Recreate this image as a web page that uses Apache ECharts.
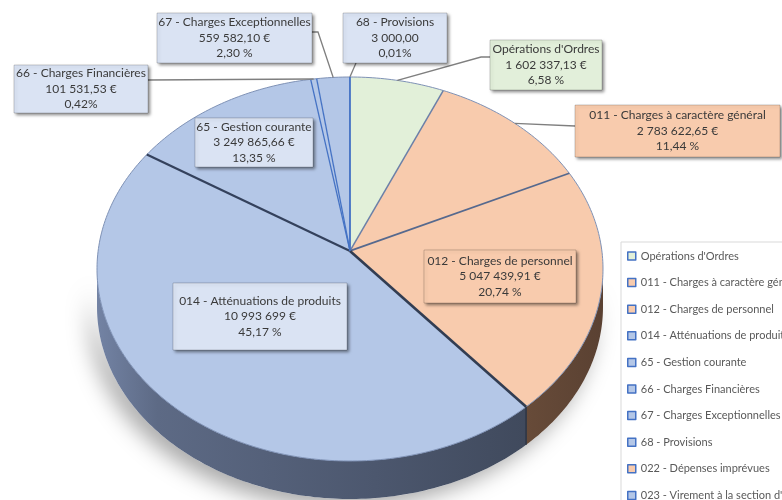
<!DOCTYPE html>
<html>
<head>
<meta charset="utf-8">
<script src="https://cdn.jsdelivr.net/npm/echarts@6/dist/echarts.min.js"></script>
<style>
  html, body { margin: 0; padding: 0; background: #fff; }
  #main { width: 782px; height: 500px; }
</style>
</head>
<body>
<div id="main"></div>
<script>
// values
const categories = [
  "Opérations d'Ordres",
  "011 - Charges à caractère général",
  "012 - Charges de personnel",
  "014 - Atténuations de produits",
  "65 - Gestion courante",
  "66 - Charges Financières",
  "67 - Charges Exceptionnelles",
  "68 - Provisions",
  "022 - Dépenses imprévues",
  "023 - Virement à la section d'Investissement"
];
const amounts = [1602337.13, 2783622.65, 5047439.91, 10993699, 3249865.66, 101531.53, 559582.10, 3000.00, 0, 0];
const amountLabels = ["1 602 337,13 €", "2 783 622,65 €", "5 047 439,91 €", "10 993 699 €", "3 249 865,66 €",
  "101 531,53 €", "559 582,10 €", "3 000,00", "", ""];
const percentLabels = ["6,58 %", "11,44 %", "20,74 %", "45,17 %", "13,35 %", "0,42%", "2,30 %", "0,01%", "", ""];

// colours and layout
const GREEN = "#e2f0d9", ORANGE = "#f8cbad", BLUE = "#b4c7e7";
const sliceColors = [GREEN, ORANGE, ORANGE, BLUE, BLUE, BLUE, BLUE, BLUE, ORANGE, BLUE];
const boxColors = ["#e2efda", "#f8cbad", "#f8cbad", "#dae3f3", "#dae3f3", "#dae3f3", "#dae3f3", "#dae3f3"];
// radial line drawn at the start of each slice
const radialStyles = [
  ["#4472c4", 1.5], ["#6b80a8", 1.5], ["#56698e", 1.8], ["#323d52", 2.6],
  ["#34415c", 2.2], ["#4472c4", 1.3], ["#4472c4", 1.3], ["#4472c4", 1.3]
];
// label boxes [x, y, w, h] and leader start / elbow
const labelBoxes = [
  { box: [490, 40, 112, 50], leader: [[490, 57], [481, 57]] },
  { box: [575, 105, 205, 52], leader: [[575, 126]] },
  { box: [424, 250, 152, 53] },
  { box: [173, 283, 174, 67] },
  { box: [195, 118, 118, 49] },
  { box: [14, 65, 134, 48], leader: [[148, 80]] },
  { box: [157, 13, 155, 50], leader: [[312, 32], [318, 32]] },
  { box: [343, 13, 104, 50], leader: [[356, 63]] }
];

const CX = 350, CY = 269, RX = 253, RY = 192, S = -0.094, DEPTH = 38;
const K = Math.sqrt(1 - S * S);
const APEX = [CX, CY + RY * S];
const SIDE_A = Math.acos(S), SIDE_B = 2 * Math.PI - SIDE_A;
const FONT = "12px Lato";

// perspective projection of a rim point, angle clockwise from 12 o'clock
function project(t) {
  const u = Math.sin(t), v = -Math.cos(t), d = 1 + S * v;
  return [CX + RX * u * K / d, CY + RY * (v + S) / d];
}
function rim(t0, t1) {
  const n = Math.max(2, Math.ceil((t1 - t0) * 60));
  const pts = [];
  for (let k = 0; k <= n; k++) pts.push(project(t0 + (t1 - t0) * k / n));
  return pts;
}

const total = amounts.reduce((a, b) => a + b, 0);
let acc = 0;
const sliceData = amounts.map((v, i) => {
  const s = acc;
  acc += v;
  return { name: categories[i], value: [s / total, acc / total, i] };
});

const blueSide = new echarts.graphic.LinearGradient(CX - RX, 0, CX + RX, 0, [
  { offset: 0, color: "#7383a4" }, { offset: 0.12, color: "#5d6a85" },
  { offset: 0.55, color: "#4c576e" }, { offset: 1, color: "#3a4354" }
], true);
const orangeSide = new echarts.graphic.LinearGradient(CX - RX, 0, CX + RX, 0, [
  { offset: 0.6, color: "#7d5b44" }, { offset: 1, color: "#5a4132" }
], true);

function renderSlice(params, api) {
  const t0 = api.value(0) * 2 * Math.PI, t1 = api.value(1) * 2 * Math.PI, i = api.value(2);
  if (t1 - t0 <= 0) return null;
  const children = [];
  const color = sliceColors[i];

  // side band (front half only)
  const a = Math.max(t0, SIDE_A), b = Math.min(t1, SIDE_B);
  if (b > a) {
    const top = rim(a, b);
    const bottom = top.map(p => [p[0], p[1] + DEPTH]).reverse();
    children.push({
      type: "polygon", z2: 1,
      shape: { points: top.concat(bottom) },
      style: { fill: color === ORANGE ? orangeSide : blueSide }
    });
  }
  // top face
  const edge = rim(t0, t1);
  children.push({
    type: "polygon", z2: 2,
    shape: { points: [APEX].concat(edge) },
    style: { fill: color, stroke: null }
  });
  children.push({
    type: "polyline", z2: 3,
    shape: { points: edge },
    style: { stroke: "#7f92b6", lineWidth: 1, fill: null }
  });
  // radial boundary at the slice start
  const rs = radialStyles[i];
  const p0 = project(t0);
  children.push({
    type: "line", z2: 4,
    shape: { x1: APEX[0], y1: APEX[1], x2: p0[0], y2: p0[1] },
    style: { stroke: rs[0], lineWidth: rs[1] }
  });
  if (t0 > SIDE_A && t0 < SIDE_B) {
    children.push({
      type: "line", z2: 4,
      shape: { x1: p0[0], y1: p0[1], x2: p0[0], y2: p0[1] + DEPTH },
      style: { stroke: "#2c3342", lineWidth: 1.5 }
    });
  }

  // label
  const lb = labelBoxes[i];
  if (lb) {
    const [bx, by, bw, bh] = lb.box;
    if (lb.leader) {
      const end = project((t0 + t1) / 2);
      children.push({
        type: "polyline", z2: 5,
        shape: { points: lb.leader.concat([end]) },
        style: { stroke: "#7f7f7f", lineWidth: 1.3, fill: null }
      });
    }
    children.push({
      type: "rect", z2: 6,
      shape: { x: bx, y: by, width: bw, height: bh },
      style: {
        fill: boxColors[i], stroke: "rgba(0,0,0,0.18)", lineWidth: 1,
        shadowColor: "rgba(0,0,0,0.45)", shadowBlur: 3, shadowOffsetX: 2, shadowOffsetY: 2
      }
    });
    children.push({
      type: "text", z2: 7,
      style: {
        text: categories[i] + "\n" + amountLabels[i] + "\n" + percentLabels[i],
        x: bx + bw / 2, y: by + bh / 2,
        align: "center", verticalAlign: "middle",
        font: FONT, lineHeight: 15.5, fill: "#3a3a3a"
      }
    });
  }
  return { type: "group", children: children };
}

// soft shadow under the front of the pie
const shadowTop = rim(SIDE_A, SIDE_B);
const shadowPoints = shadowTop.concat(shadowTop.map(p => [p[0], p[1] + DEPTH]).reverse());

const chart = echarts.init(document.getElementById("main"), null, { renderer: "canvas" });
chart.setOption({
  backgroundColor: "#fff",
  animation: false,
  legend: {
    orient: "vertical",
    left: 621,
    top: 242,
    height: 400,
    padding: [7, 40, 7, 6],
    itemWidth: 8,
    itemHeight: 8,
    itemGap: 12.6,
    icon: "rect",
    selectedMode: false,
    backgroundColor: "#fff",
    borderColor: "#d9d9d9",
    borderWidth: 1,
    itemStyle: { borderColor: "#4472c4", borderWidth: 1.5 },
    textStyle: { fontFamily: "Lato", fontSize: 11, color: "#595959", lineHeight: 14 },
    data: categories
  },
  graphic: [{
    type: "polygon",
    z: 0,
    shape: { points: shadowPoints },
    style: { fill: "#fff", shadowColor: "rgba(0,0,0,0.35)", shadowBlur: 22, shadowOffsetX: -8, shadowOffsetY: 8 }
  }],
  series: [
    {
      type: "custom",
      coordinateSystem: "none",
      renderItem: renderSlice,
      data: sliceData,
      silent: true
    },
    {
      // carries the legend entries, drawn off screen
      type: "pie",
      center: [-2000, -2000],
      radius: 5,
      silent: true,
      label: { show: false },
      data: categories.map((name, i) => ({
        name: name,
        value: amounts[i],
        itemStyle: { color: sliceColors[i] }
      }))
    }
  ]
});
</script>
</body>
</html>
